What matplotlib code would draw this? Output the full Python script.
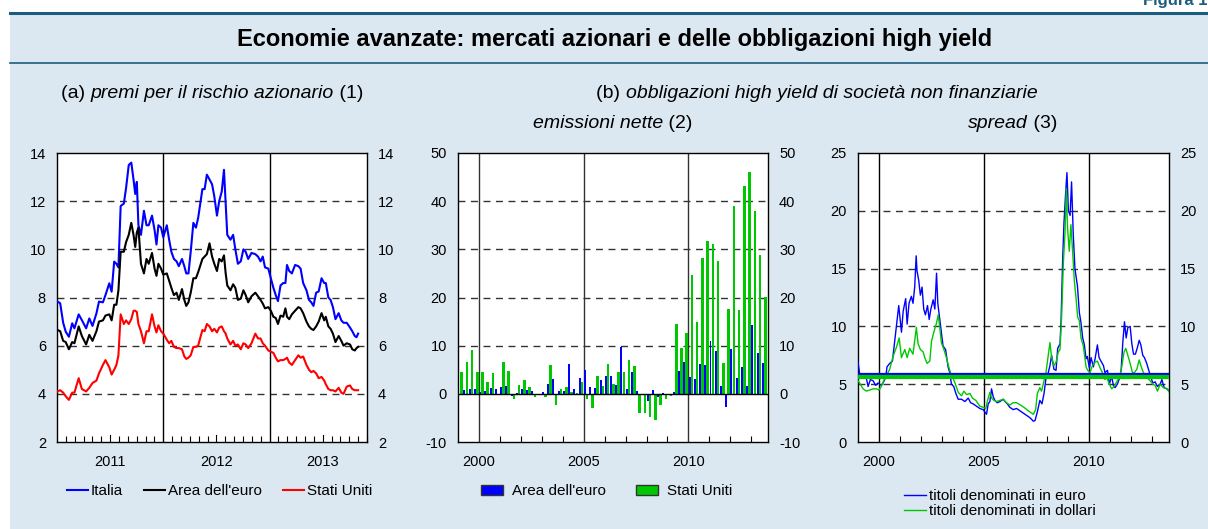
import matplotlib.pyplot as plt
import numpy as np
import pandas as pd
from matplotlib.patches import Rectangle, Patch
from matplotlib.lines import Line2D

plt.rcParams['font.family'] = ['Liberation Sans', 'DejaVu Sans']
plt.rcParams['axes.unicode_minus'] = False

# ---- (a) premi per il rischio azionario: weekly, decimal years ----
a_time = [2011.006, 2011.030, 2011.058, 2011.082, 2011.112, 2011.143, 2011.164, 2011.204, 2011.234, 2011.274,
          2011.304, 2011.334, 2011.371, 2011.395, 2011.432, 2011.456, 2011.492, 2011.514, 2011.538, 2011.559,
          2011.578, 2011.599, 2011.629, 2011.650, 2011.675, 2011.699, 2011.720, 2011.736, 2011.751, 2011.766,
          2011.790, 2011.818, 2011.842, 2011.863, 2011.894, 2011.918, 2011.936, 2011.954, 2011.979, 2012.000,
          2012.033, 2012.055, 2012.076, 2012.100, 2012.125, 2012.146, 2012.176, 2012.198, 2012.216, 2012.237,
          2012.258, 2012.283, 2012.307, 2012.328, 2012.368, 2012.389, 2012.410, 2012.435, 2012.459, 2012.480,
          2012.505, 2012.526, 2012.550, 2012.571, 2012.587, 2012.602, 2012.632, 2012.657, 2012.678, 2012.702,
          2012.729, 2012.754, 2012.775, 2012.799, 2012.830, 2012.866, 2012.891, 2012.915, 2012.936, 2012.957,
          2012.988, 2013.012, 2013.036, 2013.058, 2013.079, 2013.103, 2013.128, 2013.149, 2013.164, 2013.185,
          2013.210, 2013.240, 2013.271, 2013.292, 2013.316, 2013.347, 2013.371, 2013.392, 2013.413, 2013.438,
          2013.462, 2013.489, 2013.514, 2013.529, 2013.553, 2013.574, 2013.596, 2013.620, 2013.650, 2013.675,
          2013.696, 2013.726, 2013.757, 2013.778, 2013.802, 2013.818, 2013.833]
italia = [7.83, 7.76, 6.95, 6.58, 6.37, 6.93, 6.72, 7.30, 7.06, 6.72,
          7.13, 6.82, 7.34, 7.83, 7.80, 8.10, 8.59, 8.24, 9.49, 9.40,
          9.25, 11.80, 11.90, 12.55, 13.50, 13.60, 12.90, 12.30, 12.80, 11.00,
          10.60, 11.60, 11.00, 11.00, 11.40, 10.80, 10.20, 11.00, 10.90, 10.50,
          11.00, 10.40, 9.90, 9.60, 9.50, 9.30, 9.60, 9.30, 9.00, 9.00,
          9.90, 11.10, 10.90, 11.30, 12.50, 12.50, 13.10, 12.90, 12.70, 12.20,
          11.40, 12.00, 12.40, 13.30, 11.90, 10.60, 10.40, 10.60, 10.00, 9.40,
          9.50, 10.00, 9.90, 9.60, 9.85, 9.80, 9.70, 9.50, 9.70, 9.25,
          9.20, 8.80, 8.40, 8.10, 7.85, 8.50, 8.60, 8.60, 9.35, 9.10,
          9.00, 9.35, 9.30, 9.20, 8.60, 8.30, 7.90, 7.80, 7.65, 8.20,
          8.25, 8.80, 8.60, 8.60, 8.00, 7.90, 7.60, 7.10, 7.35, 7.05,
          6.95, 6.95, 6.75, 6.60, 6.40, 6.35, 6.50]
area_euro = [6.65, 6.60, 6.20, 6.15, 5.85, 6.15, 6.10, 6.80, 6.40, 6.05,
             6.45, 6.20, 6.60, 7.00, 7.05, 7.25, 7.30, 7.05, 7.70, 7.70,
             8.30, 9.90, 9.90, 10.30, 10.60, 11.10, 10.60, 10.10, 10.70, 10.90,
             9.40, 9.00, 9.60, 9.40, 9.85, 9.20, 8.90, 9.40, 9.20, 8.95,
             9.00, 8.70, 8.40, 8.10, 8.20, 7.90, 8.35, 7.90, 7.65, 7.80,
             8.20, 8.80, 8.80, 9.05, 9.60, 9.70, 9.80, 10.25, 9.70, 9.40,
             9.10, 9.60, 9.50, 9.75, 9.00, 8.50, 8.30, 8.55, 8.40, 7.90,
             7.95, 8.30, 8.10, 7.80, 8.05, 8.20, 8.05, 7.90, 7.75, 7.55,
             7.60, 7.45, 7.20, 7.15, 6.90, 7.25, 7.20, 7.55, 7.20, 7.10,
             7.30, 7.45, 7.60, 7.55, 7.35, 7.00, 6.80, 6.70, 6.65, 6.80,
             7.00, 7.35, 7.05, 7.20, 6.80, 6.70, 6.50, 6.15, 6.40, 6.20,
             6.00, 6.10, 6.05, 5.85, 5.80, 5.90, 5.95]
stati_uniti = [4.10, 4.15, 4.05, 3.90, 3.75, 4.05, 4.05, 4.65, 4.20, 4.10,
               4.25, 4.45, 4.55, 4.85, 5.20, 5.40, 5.10, 4.80, 5.00, 5.20,
               5.60, 7.30, 6.90, 7.05, 6.90, 7.10, 7.45, 7.45, 7.40, 6.90,
               6.60, 6.10, 6.60, 6.60, 7.30, 6.80, 6.55, 6.85, 6.60, 6.50,
               6.25, 6.10, 6.20, 5.95, 5.90, 5.90, 5.85, 5.55, 5.45, 5.50,
               5.60, 5.95, 5.95, 6.00, 6.65, 6.60, 6.90, 6.80, 6.60, 6.70,
               6.55, 6.75, 6.80, 6.60, 6.50, 6.30, 6.05, 6.20, 6.00, 6.05,
               5.85, 6.10, 6.05, 5.90, 6.10, 6.50, 6.30, 6.30, 6.10, 6.00,
               5.80, 5.75, 5.70, 5.50, 5.35, 5.40, 5.40, 5.45, 5.50, 5.30,
               5.20, 5.40, 5.60, 5.50, 5.55, 5.20, 5.00, 4.90, 4.95, 4.85,
               4.65, 4.70, 4.55, 4.40, 4.20, 4.15, 4.15, 4.10, 4.25, 4.05,
               4.00, 4.30, 4.35, 4.20, 4.15, 4.15, 4.15]

# ---- (b) emissioni nette: quarterly, 1999Q1-2013Q3 ----
quarters = pd.period_range('1999Q1', '2013Q3', freq='Q')
emiss_euro = [0.0, 0.8, 0.9, 1.0, 0.35, 0.5, 1.2, 0.9, 1.4, 1.6,
              -0.5, 0.1, 1.0, 0.7, 0.55, -0.3, 0.4, 2.1, 3.0, 0.55,
              0.55, 6.1, 1.0, 3.2, 5.0, 1.4, 1.2, 2.8, 3.7, 3.7,
              1.9, 9.7, 1.0, 4.5, 0.5, -0.3, -1.5, 0.7, -0.6, 0.2,
              -0.2, 0.3, 4.8, 6.7, 3.4, 3.1, 6.1, 5.9, 11.0, 8.8,
              1.7, -2.7, 9.4, 3.3, 5.6, 1.7, 14.2, 8.5, 6.4]
emiss_usa = [4.5, 6.7, 9.2, 4.5, 4.5, 2.5, 4.3, -0.3, 6.6, 4.8,
             -1.0, 1.8, 2.8, 1.5, -0.7, -0.2, -0.75, 5.9, -2.4, 1.0,
             1.5, 0.4, 0.2, 2.4, -1.0, -3.0, 3.8, 1.6, 6.2, 2.0,
             4.5, 4.6, 7.1, 5.7, -4.0, -4.0, -4.9, -5.5, -2.3, -1.0,
             -0.4, 14.5, 9.6, 12.6, 24.7, 14.9, 28.3, 31.8, 31.1, 27.6,
             6.5, 17.7, 38.9, 17.4, 43.1, 46.1, 38.0, 28.8, 20.1]

# ---- spread: decimal years ----
spr_eur_time = [1999.00, 1999.08, 1999.24, 1999.40, 1999.48, 1999.59, 1999.72, 1999.84, 1999.95, 2000.11,
                2000.22, 2000.32, 2000.38, 2000.51, 2000.64, 2000.72, 2000.83, 2000.94, 2001.02, 2001.07,
                2001.15, 2001.27, 2001.34, 2001.43, 2001.54, 2001.62, 2001.70, 2001.77, 2001.81, 2001.89,
                2001.97, 2002.05, 2002.13, 2002.21, 2002.31, 2002.39, 2002.47, 2002.58, 2002.66, 2002.74,
                2002.80, 2002.90, 2002.97, 2003.05, 2003.17, 2003.29, 2003.37, 2003.45, 2003.56, 2003.66,
                2003.77, 2003.93, 2004.09, 2004.25, 2004.36, 2004.48, 2004.64, 2004.80, 2004.96, 2005.04,
                2005.12, 2005.20, 2005.28, 2005.36, 2005.44, 2005.52, 2005.63, 2005.76, 2005.92, 2006.00,
                2006.11, 2006.23, 2006.39, 2006.55, 2006.71, 2006.87, 2007.03, 2007.19, 2007.35, 2007.43,
                2007.54, 2007.66, 2007.76, 2007.86, 2007.95, 2008.06, 2008.14, 2008.22, 2008.33, 2008.43,
                2008.51, 2008.62, 2008.67, 2008.75, 2008.81, 2008.89, 2008.95, 2009.02, 2009.10, 2009.17,
                2009.25, 2009.33, 2009.45, 2009.54, 2009.62, 2009.70, 2009.78, 2009.86, 2009.92, 2010.02,
                2010.10, 2010.21, 2010.29, 2010.40, 2010.48, 2010.57, 2010.69, 2010.76, 2010.88, 2010.97,
                2011.08, 2011.16, 2011.24, 2011.35, 2011.45, 2011.53, 2011.61, 2011.69, 2011.77, 2011.85,
                2011.96, 2012.04, 2012.12, 2012.21, 2012.31, 2012.39, 2012.47, 2012.56, 2012.64, 2012.75,
                2012.83, 2012.91, 2013.04, 2013.15, 2013.26, 2013.39, 2013.47, 2013.58, 2013.71, 2013.83]
spr_eur = [6.9, 5.9, 5.8, 5.5, 4.8, 5.4, 5.3, 4.9, 5.1, 4.9,
           5.2, 5.6, 6.5, 6.8, 7.0, 8.3, 10.1, 11.8, 10.4, 9.5,
           11.3, 12.4, 10.2, 12.0, 12.6, 12.0, 13.4, 16.1, 14.8, 14.0,
           12.7, 13.4, 11.5, 11.0, 11.8, 10.6, 11.5, 12.3, 11.5, 14.6,
           12.0, 10.5, 9.5, 8.3, 8.0, 6.5, 6.0, 5.0, 4.8, 4.2,
           3.7, 3.7, 3.5, 3.8, 3.4, 3.3, 3.1, 2.9, 2.8, 2.6,
           2.4, 3.3, 3.5, 4.6, 3.9, 3.6, 3.4, 3.5, 3.7, 3.5,
           3.3, 3.0, 2.8, 2.9, 2.7, 2.5, 2.3, 2.1, 1.8, 1.85,
           2.6, 3.6, 3.3, 4.2, 5.5, 6.0, 6.6, 7.5, 6.3, 6.2,
           8.1, 8.5, 10.5, 16.0, 19.0, 21.6, 23.3, 20.0, 19.6, 22.5,
           18.0, 15.0, 13.5, 11.2, 10.3, 9.0, 8.4, 7.2, 7.4, 6.4,
           7.3, 6.5, 7.2, 8.4, 7.3, 7.0, 6.6, 6.0, 6.2, 5.0,
           5.7, 4.9, 4.7, 5.0, 5.5, 6.2, 8.6, 10.4, 9.0, 9.9,
           10.0, 8.5, 7.6, 7.6, 8.2, 8.8, 8.4, 7.5, 7.3, 6.8,
           6.3, 5.8, 5.1, 5.2, 4.8, 5.0, 5.4, 4.7, 4.6, 4.4]
spr_usd_time = [1999.00, 1999.08, 1999.24, 1999.40, 1999.56, 1999.72, 1999.87, 2000.00, 2000.11, 2000.22,
                2000.35, 2000.51, 2000.67, 2000.83, 2000.96, 2001.07, 2001.23, 2001.34, 2001.46, 2001.62,
                2001.78, 2001.86, 2001.97, 2002.10, 2002.18, 2002.29, 2002.42, 2002.50, 2002.61, 2002.74,
                2002.82, 2002.90, 2002.97, 2003.09, 2003.21, 2003.32, 2003.42, 2003.53, 2003.64, 2003.77,
                2003.93, 2004.04, 2004.17, 2004.33, 2004.45, 2004.61, 2004.80, 2004.96, 2005.09, 2005.17,
                2005.28, 2005.36, 2005.47, 2005.60, 2005.76, 2005.92, 2006.07, 2006.23, 2006.39, 2006.55,
                2006.74, 2006.90, 2007.11, 2007.35, 2007.46, 2007.54, 2007.66, 2007.74, 2007.82, 2007.95,
                2008.06, 2008.14, 2008.22, 2008.33, 2008.43, 2008.54, 2008.62, 2008.70, 2008.78, 2008.86,
                2008.92, 2008.98, 2009.06, 2009.14, 2009.22, 2009.30, 2009.38, 2009.46, 2009.54, 2009.62,
                2009.73, 2009.86, 2009.94, 2010.05, 2010.16, 2010.29, 2010.40, 2010.53, 2010.64, 2010.76,
                2010.84, 2010.97, 2011.08, 2011.19, 2011.32, 2011.45, 2011.56, 2011.67, 2011.75, 2011.85,
                2011.96, 2012.07, 2012.16, 2012.28, 2012.39, 2012.47, 2012.59, 2012.75, 2012.91, 2013.04,
                2013.15, 2013.26, 2013.39, 2013.55, 2013.71, 2013.83]
spr_usd = [5.3, 5.1, 4.6, 4.4, 4.5, 4.6, 4.6, 4.5, 4.8, 5.3,
           5.7, 6.3, 7.4, 8.2, 9.0, 7.3, 8.0, 7.3, 8.1, 7.6,
           9.9, 8.5, 8.0, 7.8, 7.3, 6.8, 7.0, 8.7, 9.5, 10.3,
           11.0, 9.8, 8.6, 8.0, 7.3, 6.5, 5.9, 5.5, 5.0, 4.3,
           4.0, 4.4, 4.1, 4.2, 3.8, 3.6, 3.1, 3.0, 2.9, 3.6,
           4.3, 3.8, 3.6, 3.5, 3.6, 3.7, 3.4, 3.2, 3.4, 3.4,
           3.2, 3.0, 2.7, 2.4, 2.8, 4.2, 4.7, 4.4, 5.0, 6.0,
           7.5, 8.6, 7.3, 6.6, 6.9, 7.8, 8.0, 11.0, 15.5, 18.2,
           21.9, 18.5, 16.5, 18.8, 16.5, 14.0, 12.5, 10.8, 10.5, 9.0,
           8.3, 6.5, 6.2, 6.0, 6.6, 6.9, 7.0, 6.4, 6.0, 5.4,
           5.6, 5.0, 4.6, 4.8, 5.2, 5.6, 6.5, 7.8, 8.1, 7.5,
           6.8, 6.0, 6.0, 6.3, 7.1, 6.6, 6.0, 5.6, 5.3, 5.0,
           4.9, 4.4, 5.0, 4.7, 4.6, 4.3]
media_eur = 5.86
media_usd = 5.6

BG = '#dce8f1'
TEAL = '#1c5d7f'
BLUE = '#0000ff'
GREEN = '#00c800'

W, H = 1208, 529
fig = plt.figure(figsize=(W / 100, H / 100), dpi=100)
fig.patch.set_facecolor('white')

# panel background and header rules
fig.patches.append(Rectangle((10 / W, 0), 1 - 10 / W, 515 / H, transform=fig.transFigure,
                             facecolor=BG, edgecolor='none', zorder=-10))
fig.lines.append(Line2D([10 / W, 1], [516 / H, 516 / H], transform=fig.transFigure, color=TEAL, lw=2.2))
fig.lines.append(Line2D([10 / W, 1], [466.5 / H, 466.5 / H], transform=fig.transFigure, color=TEAL, lw=1.2))
fig.text(1212 / W, 524 / H, 'Figura 1.', ha='right', va='baseline', color=TEAL,
         fontsize=12, fontweight='bold')
fig.text(615 / W, (H - 40) / H, 'Economie avanzate: mercati azionari e delle obbligazioni high yield',
         ha='center', va='center', fontsize=17, fontweight='bold')


def mixed_title(x_center, y_top, parts, size=14):
    # chunks of normal / italic text, centred on x_center (pixels, y from top)
    renderer = fig.canvas.get_renderer()
    texts = []
    for txt, style in parts:
        texts.append(fig.text(0, (H - y_top) / H, txt, fontsize=size, style=style, va='center'))
    widths = [tt.get_window_extent(renderer).width for tt in texts]
    x = x_center - sum(widths) / 2
    for tt, w in zip(texts, widths):
        tt.set_x(x / W)
        x += w


mixed_title(212, 93, [('(a) ', 'normal'), ('premi per il rischio azionario', 'italic'), (' (1)', 'normal')])
mixed_title(817, 93, [('(b) ', 'normal'), ('obbligazioni high yield di società non finanziarie', 'italic')])
mixed_title(613, 123, [('emissioni nette', 'italic'), (' (2)', 'normal')])
mixed_title(1013, 123, [('spread', 'italic'), (' (3)', 'normal')])


def make_axes(left, width, ylim, yticks, grid_vals, vlines, vcolor='black'):
    ax = fig.add_axes([left / W, (H - 442) / H, width / W, 289 / H])
    ax.set_facecolor('white')
    ax.set_ylim(*ylim)
    ax.set_yticks(yticks)
    ax.tick_params(axis='y', which='both', length=0, labelsize=10.5, pad=8,
                   labelleft=True, labelright=True)
    for g in grid_vals:
        ax.axhline(g, color='#333333', lw=1, ls=(0, (5, 4)), zorder=1)
    for v in vlines:
        ax.axvline(v, color=vcolor, lw=1, zorder=1)
    for s in ax.spines.values():
        s.set_linewidth(1)
    ax.tick_params(axis='x', which='major', length=0, labelsize=10.5, pad=9)
    ax.tick_params(axis='x', which='minor', direction='in', length=4, width=0.8)
    return ax


# ---- panel (a) ----
ax1 = make_axes(57, 310, (2, 14), range(2, 15, 2), [4, 6, 8, 10, 12], [2012, 2013])
ax1.set_xlim(2011.0, 2013.833)
ax1.plot(a_time, italia, color=BLUE, lw=1.5, zorder=3, label='Italia')
ax1.plot(a_time, area_euro, color='black', lw=1.5, zorder=3, label="Area dell'euro")
ax1.plot(a_time, stati_uniti, color='#ff0000', lw=1.5, zorder=3, label='Stati Uniti')
ax1.set_xticks([2011.5, 2012.5, 2013.5])
ax1.set_xticklabels(['2011', '2012', '2013'])
ax1.set_xticks([y + m / 12 for y in (2011, 2012, 2013) for m in range(1, 12) if m != 6], minor=True)
for mid in (2011.5, 2012.5, 2013.5):
    ax1.plot([mid, mid], [2, 2.3], color='black', lw=0.8, zorder=2)
ax1.legend(loc='center', bbox_to_anchor=(0.525, -0.17), ncol=3, frameon=False, fontsize=11,
           handlelength=1.35, handletextpad=0.2, columnspacing=1.4)

# ---- panel (b) emissioni ----
ax2 = make_axes(458, 310, (-10, 50), range(-10, 51, 10), [10, 20, 30, 40], [2000, 2005, 2010], vcolor='#333333')
ax2.set_xlim(1999.0, 2013.8)
qx = np.array([q.year + (q.quarter - 1) / 4 for q in quarters])
ax2.bar(qx + 0.055, emiss_euro, width=0.095, color=BLUE, zorder=3, label="Area dell'euro")
ax2.bar(qx + 0.17, emiss_usa, width=0.12, color=GREEN, zorder=3, label='Stati Uniti')
ax2.axhline(0, color='black', lw=1, zorder=4)
ax2.set_xticks([2000, 2005, 2010])
ax2.set_xticks([y for y in range(2000, 2014) if y % 5 != 0], minor=True)
ax2.legend(handles=[Patch(facecolor=BLUE, edgecolor='#333333', label="Area dell'euro"),
                    Patch(facecolor=GREEN, edgecolor='#333333', label='Stati Uniti')],
           loc='center', bbox_to_anchor=(0.48, -0.17), ncol=2, frameon=False, fontsize=11,
           handlelength=1.4, handleheight=0.6, handletextpad=0.6, columnspacing=2.0)

# ---- panel (b) spread ----
ax3 = make_axes(858, 311, (0, 25), range(0, 26, 5), [5, 10, 15, 20], [2000, 2005, 2010])
ax3.set_xlim(1999.0, 2013.81)
ax3.plot(spr_eur_time, spr_eur, color=BLUE, lw=1, zorder=3, label='titoli denominati in euro')
ax3.plot(spr_usd_time, spr_usd, color=GREEN, lw=1, zorder=3, label='titoli denominati in dollari')
ax3.axhline(media_eur, color=BLUE, lw=1.6, zorder=4)
ax3.axhline(media_usd, color=GREEN, lw=3, zorder=4)
ax3.set_xticks([2000, 2005, 2010])
ax3.set_xticks([y for y in range(2000, 2014) if y % 5 != 0], minor=True)
ax3.legend(loc='center', bbox_to_anchor=(0.455, -0.214), ncol=1, frameon=False, fontsize=11,
           handlelength=1.45, handletextpad=0.2, labelspacing=0.05)

fig.savefig('out.png', dpi=100, facecolor=fig.get_facecolor())
